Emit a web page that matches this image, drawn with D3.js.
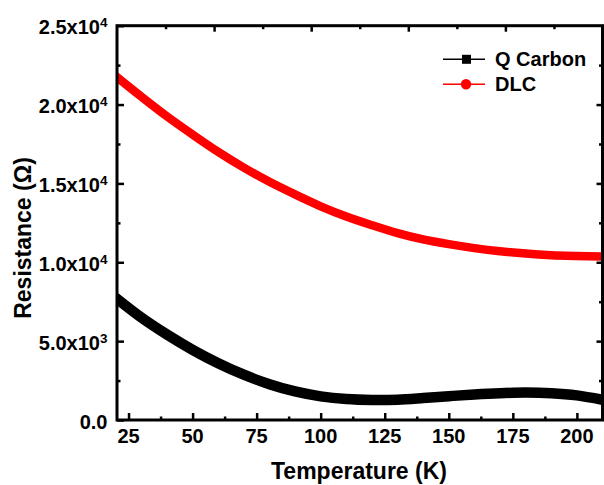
<!DOCTYPE html>
<html>
<head>
<meta charset="utf-8">
<script src="https://cdn.jsdelivr.net/npm/d3@7"></script>
<style>
  body { margin: 0; background: #fff; }
  svg { font-family: "Liberation Sans", Arial, sans-serif; font-weight: bold; }
</style>
</head>
<body>
<div id="viz"></div>
<script>
// temperature (K) and resistance (ohm)
var temps   = [20, 30, 40, 50, 60, 70, 80, 90, 100, 110, 120, 130, 140, 150, 160, 170, 180, 190, 200, 210];
var qCarbon = [7750, 6500, 5420, 4450, 3600, 2870, 2270, 1810, 1500, 1330, 1270, 1290, 1390, 1510, 1620, 1700, 1740, 1700, 1560, 1280];
var dlc     = [21800, 20500, 19250, 18100, 17000, 16000, 15100, 14300, 13550, 12900, 12350, 11850, 11450, 11150, 10900, 10700, 10550, 10450, 10400, 10370];

var seriesNames  = ['Q Carbon', 'DLC'];
var xTicks = [25, 50, 75, 100, 125, 150, 175, 200];
var yTicks = [0, 5000, 10000, 15000, 20000, 25000];
var yTickLabels = [['0.0', ''], ['5.0x10', '3'], ['1.0x10', '4'], ['1.5x10', '4'], ['2.0x10', '4'], ['2.5x10', '4']];

var width = 604, height = 485;
// plot box (note: "top" is reserved on window, so pL/pR/pT/pB)
var pL = 117, pR = 602.5, pT = 25.7, pB = 420;

var x = d3.scaleLinear().domain([20.5, 210]).range([pL, pR]);
var y = d3.scaleLinear().domain([0, 25000]).range([pB, pT]);
// mirror axes (top/right) in Origin have their own 0..1 scale
var xt = d3.scaleLinear().domain([0, 1]).range([pL, pR]);
var yr = d3.scaleLinear().domain([0, 1]).range([pB, pT]);

var svg = d3.select('#viz').append('svg')
  .attr('width', width)
  .attr('height', height);

svg.append('clipPath').attr('id', 'clip')
  .append('rect')
    .attr('x', pL).attr('y', pT)
    .attr('width', pR - pL).attr('height', pB - pT);

var line = d3.line()
  .x(function(d) { return x(d[0]); })
  .y(function(d) { return y(d[1]); })
  .curve(d3.curveCatmullRom);

var series = [
  { name: seriesNames[0], values: qCarbon, color: '#000000', w: 10.5 },
  { name: seriesNames[1], values: dlc, color: '#ff0000', w: 8.5 }
];

svg.append('g').attr('clip-path', 'url(#clip)')
  .selectAll('path').data(series)
  .enter().append('path')
    .attr('d', function(s) { return line(temps.map(function(t, i) { return [t, s.values[i]]; })); })
    .attr('fill', 'none')
    .attr('stroke', function(s) { return s.color; })
    .attr('stroke-width', function(s) { return s.w; })
    .attr('stroke-linecap', 'round');

function styleAxis(g) {
  g.select('.domain').remove();
  g.selectAll('line').attr('stroke', '#000').attr('stroke-width', 2.5);
  g.selectAll('text').remove();
}

// bottom axis
svg.append('g').attr('transform', 'translate(0,' + pB + ')')
  .call(d3.axisBottom(x).tickValues(xTicks).tickSize(-7)).call(styleAxis);
svg.append('g').attr('transform', 'translate(0,' + pB + ')')
  .call(d3.axisBottom(x).tickValues(xTicks.slice(0, -1).map(function(d) { return d + 12.5; })).tickSize(-3.5)).call(styleAxis);

svg.append('g').selectAll('text').data(xTicks)
  .enter().append('text')
    .attr('x', function(d) { return x(d); })
    .attr('y', 443)
    .attr('text-anchor', 'middle')
    .attr('font-size', 20)
    .text(function(d) { return d; });

// left axis
svg.append('g').attr('transform', 'translate(' + pL + ',0)')
  .call(d3.axisLeft(y).tickValues(yTicks).tickSize(-7)).call(styleAxis);
svg.append('g').attr('transform', 'translate(' + pL + ',0)')
  .call(d3.axisLeft(y).tickValues(yTicks.slice(0, -1).map(function(d) { return d + 2500; })).tickSize(-3.5)).call(styleAxis);

var yl = svg.append('g').selectAll('text').data(yTicks)
  .enter().append('text')
    .attr('x', 107.5)
    .attr('y', function(d) { return y(d) + 8.5; })
    .attr('text-anchor', 'end')
    .attr('font-size', 20);
yl.append('tspan').text(function(d, i) { return yTickLabels[i][0]; });
yl.append('tspan')
  .attr('font-size', 13.5)
  .attr('dy', -7)
  .text(function(d, i) { return yTickLabels[i][1]; });

// top and right mirror axes
var mirrorMajor = [0.2, 0.4, 0.6, 0.8], mirrorMinor = [0.1, 0.3, 0.5, 0.7, 0.9];
svg.append('g').attr('transform', 'translate(0,' + pT + ')')
  .call(d3.axisTop(xt).tickValues(mirrorMajor).tickSize(-6)).call(styleAxis);
svg.append('g').attr('transform', 'translate(0,' + pT + ')')
  .call(d3.axisTop(xt).tickValues(mirrorMinor).tickSize(-3.5)).call(styleAxis);
svg.append('g').attr('transform', 'translate(' + pR + ',0)')
  .call(d3.axisRight(yr).tickValues(mirrorMajor).tickSize(-6)).call(styleAxis);
svg.append('g').attr('transform', 'translate(' + pR + ',0)')
  .call(d3.axisRight(yr).tickValues(mirrorMinor).tickSize(-3.5)).call(styleAxis);

// frame
svg.append('rect')
  .attr('x', pL).attr('y', pT)
  .attr('width', pR - pL).attr('height', pB - pT)
  .attr('fill', 'none')
  .attr('stroke', '#000')
  .attr('stroke-width', 3);

// axis titles
svg.append('text')
  .attr('x', 359).attr('y', 479)
  .attr('text-anchor', 'middle')
  .attr('font-size', 23)
  .text('Temperature (K)');

svg.append('text')
  .attr('transform', 'translate(31,238) rotate(-90)')
  .attr('text-anchor', 'middle')
  .attr('font-size', 23)
  .text('Resistance (\u03A9)');

// legend
var legend = svg.append('g').selectAll('g').data(series)
  .enter().append('g')
    .attr('transform', function(d, i) { return 'translate(443,' + (59.3 + i * 25) + ')'; });
legend.append('line')
  .attr('x1', 0).attr('x2', 42)
  .attr('stroke', function(d) { return d.color; })
  .attr('stroke-width', 1.5);
legend.filter(function(d, i) { return i === 0; }).append('rect')
  .attr('x', 19).attr('y', -4.5).attr('width', 9).attr('height', 9)
  .attr('fill', function(d) { return d.color; });
legend.filter(function(d, i) { return i === 1; }).append('circle')
  .attr('cx', 23).attr('r', 5.2)
  .attr('fill', function(d) { return d.color; });
legend.append('text')
  .attr('x', 52).attr('y', 7)
  .attr('font-size', 20)
  .text(function(d) { return d.name; });
</script>
</body>
</html>
